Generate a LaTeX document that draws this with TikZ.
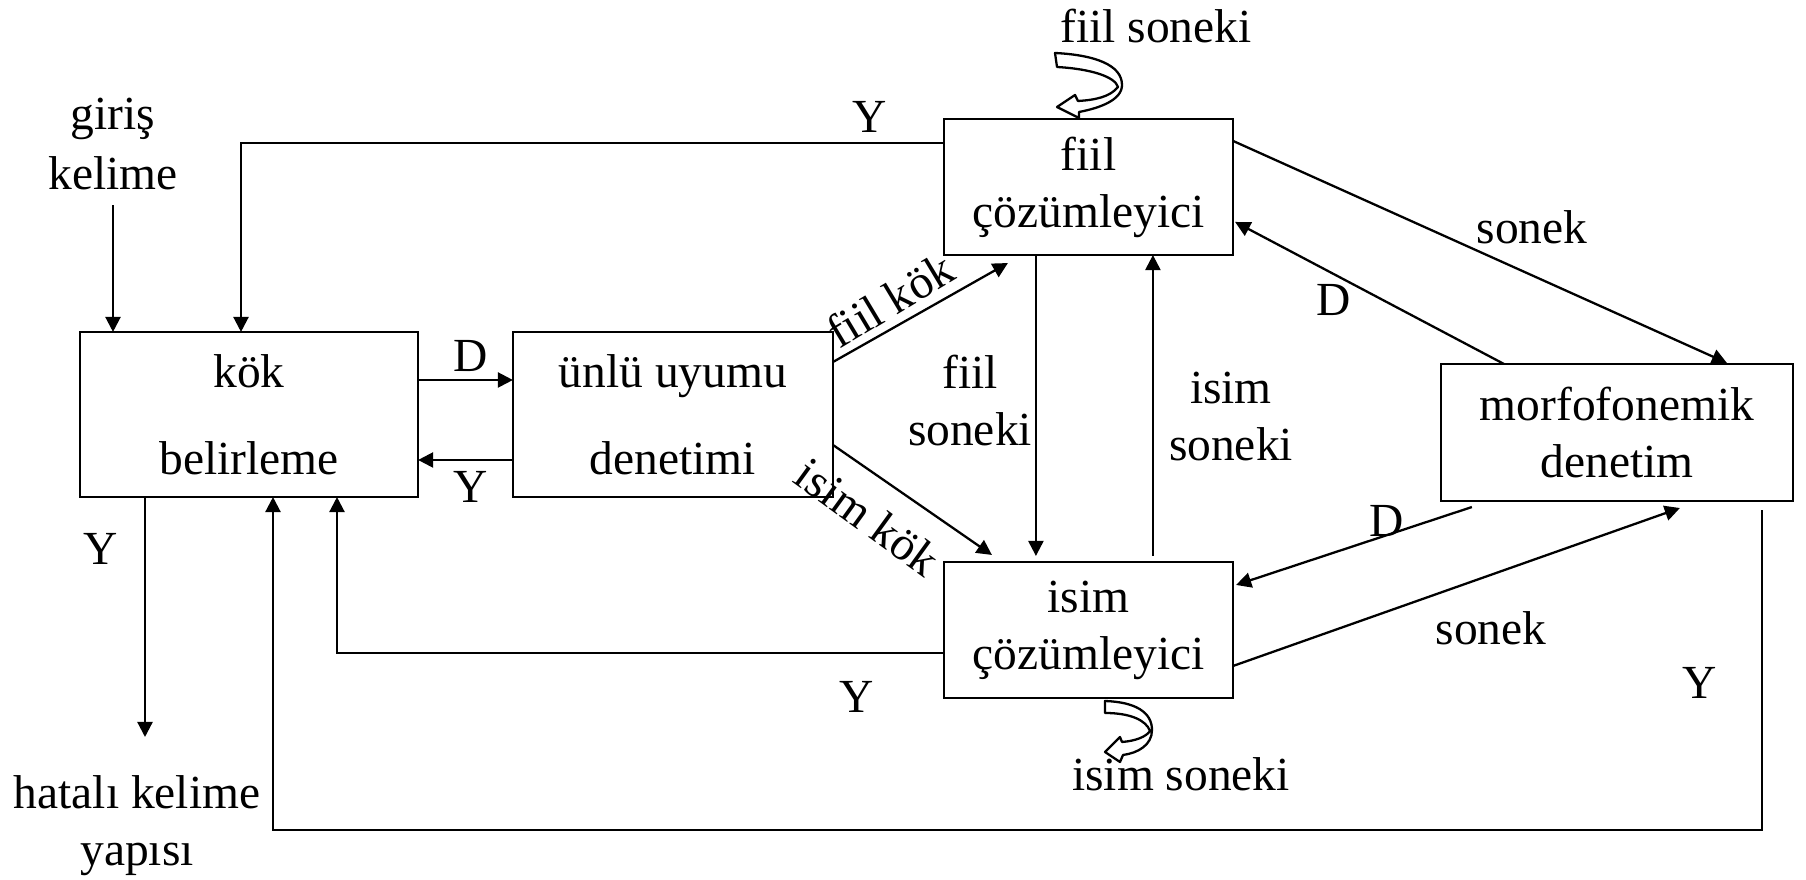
\documentclass[tikz,border=0pt]{standalone}
\usepackage{fontspec}
\setmainfont{Liberation Serif}
\usetikzlibrary{arrows.meta,calc}
\begin{document}
\begin{tikzpicture}[x=0.01cm,y=-0.01cm,
  every node/.style={inner sep=0pt, outer sep=0pt, font=\fontsize{13.5}{16.2}\selectfont},
  box/.style={draw, line width=0.65pt, align=center},
  lbl/.style={align=center},
  arr/.style={line width=0.65pt, -{Triangle[length=4.3pt,width=4.3pt]}},
  ln/.style={line width=0.65pt},
  hollow/.style={draw, fill=white, line width=0.65pt, line join=round}]
\useasboundingbox (0,0) rectangle (1806,880);

% boxes
\node[box, minimum width=3.38cm, minimum height=1.65cm] (kok) at (249,414.5) {kök\\[8.5pt]belirleme};
\node[box, minimum width=3.20cm, minimum height=1.65cm] (unlu) at (673,414.5) {ünlü uyumu\\[8.5pt]denetimi};
\node[box, minimum width=2.89cm, minimum height=1.36cm] (fiil) at (1088.5,187) {fiil\\çözümleyici};
\node[box, minimum width=2.89cm, minimum height=1.36cm] (isim) at (1088.5,630) {isim\\çözümleyici};
\node[box, minimum width=3.52cm, minimum height=1.37cm] (morfo) at (1617,432.5) {morfofonemik\\denetim};

% free texts
\node[lbl, font=\fontsize{13.5}{17.1}\selectfont] (giris) at (113,144) {giriş\\kelime};
\node[lbl] (hatali) at (137,825.5) {hatalı kelime\\yapısı};
\node (fsTxt) at (1156,26) {fiil soneki};
\node (isTxt) at (1181,774) {isim soneki};

% helper coordinates
\coordinate (yTop) at (241,143);
\coordinate (dY) at (0,380);
\coordinate (yY) at (0,460);
\coordinate (hatEnd) at (145,737);
\coordinate (iy) at (337,653);
\coordinate (mx) at (273,830);

% connectors
\draw[arr] ([yshift=-0.15cm]giris.south) -- (giris.south |- kok.north);
\draw[arr] (fiil.west |- yTop) -| (kok.north -| yTop);
\draw[arr] (kok.east |- dY) -- (unlu.west |- dY);
\draw[arr] (unlu.west |- yY) -- (kok.east |- yY);
\draw[arr] (kok.south -| hatEnd) -- (hatEnd);
\draw[arr] ($(unlu.north east)+(0,30)$) -- ($(fiil.south west)+(64,8)$);
\draw[arr] ($(unlu.south east)+(0,-52)$) -- ($(isim.north west)+(48,-7)$);
\draw[arr] ($(fiil.south west)+(92,0)$) -- ($(isim.north west)+(92,-6)$);
\draw[arr] ($(isim.north west)+(209,-6)$) -- ($(fiil.south west)+(209,0)$);
\draw[arr] ($(fiil.north east)+(0,22)$) -- ($(morfo.north west)+(286,-1)$);
\draw[arr] ($(morfo.north west)+(63,0)$) -- ($(fiil.north east)+(2,103)$);
\draw[arr] ($(morfo.south west)+(31,6)$) -- ($(isim.north east)+(3,23)$);
\draw[arr] ($(isim.north east)+(0,104)$) -- ($(morfo.south west)+(239,7)$);
\draw[arr] (isim.west |- iy) -| (kok.south -| iy);
\draw[arr] ($(morfo.south west)+(321,9)$) |- (mx) -- (kok.south -| mx);

% connector labels
\node (lY1) at (870,117) {Y};
\node (lD1) at (471,356) {D};
\node (lY2) at (471,487) {Y};
\node (lY3) at (101,549) {Y};
\node[rotate=31] (lfk) at (890,300) {fiil kök};
\node[rotate=-36] (lik) at (868,517) {isim kök};
\node[lbl] (lfs) at (970,400.5) {fiil\\soneki};
\node[lbl] (lis) at (1231,417) {isim\\soneki};
\node (ls1) at (1532,227) {sonek};
\node (lD2) at (1334,300) {D};
\node (lD3) at (1387,521) {D};
\node (ls2) at (1491,628) {sonek};
\node (lY4) at (857,697) {Y};
\node (lY5) at (1700,683) {Y};

% hollow curved self-loop arrows
\draw[hollow] (1055,53) .. controls (1095,55) and (1122,65) .. (1122,85)
  .. controls (1122,100) and (1100,108) .. (1079,112)
  -- (1079,118) -- (1057,107) -- (1075,95) -- (1078,101)
  .. controls (1095,100) and (1110,97) .. (1118,87)
  .. controls (1115,77) and (1092,69) .. (1057,67) -- cycle;
\draw[hollow] (1105,701) .. controls (1135,702) and (1152,712) .. (1152,730)
  .. controls (1152,745) and (1138,753) .. (1123,755)
  -- (1120,762) -- (1105,752) -- (1120,737) -- (1122,742)
  .. controls (1135,741) and (1146,737) .. (1150,731)
  .. controls (1146,720) and (1130,713) .. (1105,713) -- cycle;
\end{tikzpicture}
\end{document}
